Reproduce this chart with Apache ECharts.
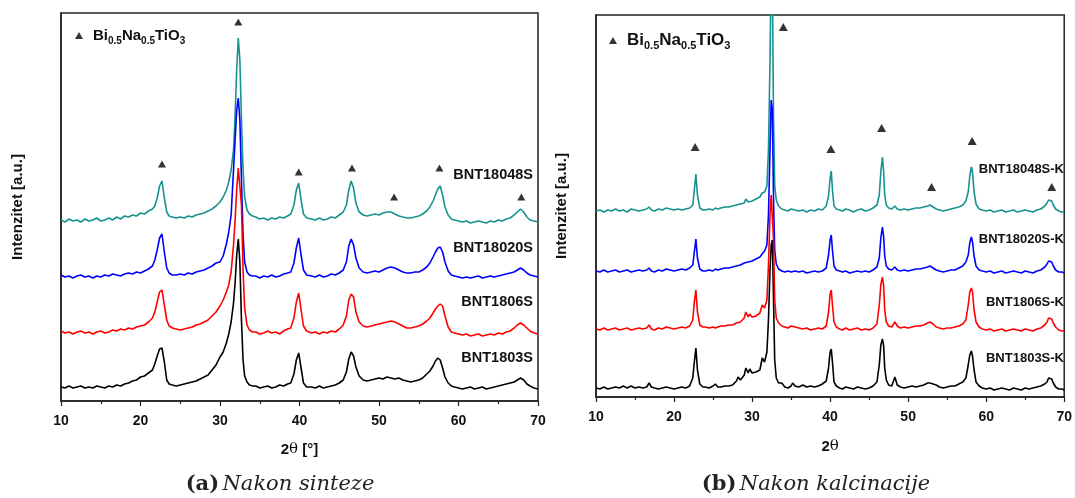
<!DOCTYPE html>
<html>
<head>
<meta charset="utf-8">
<script src="https://cdn.jsdelivr.net/npm/echarts@6/dist/echarts.min.js"></script>
<style>
html, body { margin: 0; padding: 0; background: #fff; }
#main { width: 1075px; height: 498px; }
</style>
</head>
<body>
<div id="main"></div>
<script>
// (a) Nakon sinteze -- 2theta grid and intensities (a.u.)
var anglesA = [
  10,10.5,11,11.5,12,12.5,13,13.5,14,14.5,15,15.5,16,16.5,17,17.5,18,18.5,19,19.5,20,20.5,21,
  21.5,21.8,22.1,22.4,22.7,23,23.3,23.6,24,
  24.5,25,25.5,26,26.5,27,27.5,28,28.5,29,29.5,
  30,30.4,30.8,31.1,31.4,31.7,31.9,32.1,32.3,32.5,32.7,32.9,33.1,33.4,33.7,34.1,
  34.5,35,35.5,36,36.5,37,37.5,38,38.5,
  38.9,39.3,39.6,39.9,40.2,40.5,40.9,
  41.5,42,42.5,43,43.5,44,44.5,45,45.5,
  45.9,46.2,46.5,46.8,47.1,47.5,
  48,48.5,49,49.5,50,50.5,51,51.5,52,52.5,53,53.5,54,54.5,55,55.5,
  56,56.4,56.8,57.1,57.4,57.7,58,58.3,58.7,59.1,
  59.5,60,60.5,61,61.5,62,62.5,63,63.5,64,64.5,65,65.5,66,66.5,
  67,67.4,67.8,68.2,68.6,69,69.5,70
];
var bnt18048S = [
  181,179,182,180,181,179,182,180,181,183,180,181,183,181,184,182,185,184,186,185,188,187,190,
  192,195,203,215,220,203,189,185,184,
  183,184,183,185,184,186,187,188,190,192,195,
  199,204,211,219,231,251,286,331,363,341,281,231,204,191,187,185,
  184,182,183,181,183,182,184,183,185,
  187,196,211,218,201,187,183,
  182,181,183,181,182,184,183,186,189,
  196,211,220,213,198,189,
  186,185,186,187,186,188,189,189,187,185,184,183,183,184,185,187,
  190,194,200,206,212,215,206,194,186,182,
  181,180,179,180,178,179,180,179,178,180,179,181,180,182,183,
  186,189,192,189,184,181,180,179
];
var bnt18020S = [
  126,124,125,123,125,126,124,125,123,125,124,126,125,127,126,125,127,128,127,129,128,130,132,
  135,141,151,163,167,149,133,128,126,
  126,127,126,128,127,129,130,131,133,135,138,
  139,145,157,169,186,231,261,291,303,281,221,166,139,129,126,125,
  125,123,125,124,126,124,125,127,128,
  129,138,153,163,146,131,126,
  125,124,126,124,125,127,126,128,131,
  139,155,162,156,143,133,
  129,128,129,130,129,131,133,134,133,131,129,128,128,129,129,131,
  134,138,144,149,153,154,149,139,130,126,
  125,124,123,124,123,124,125,123,124,125,124,125,126,127,128,
  129,131,133,131,128,126,125,124
];
var bnt1806S = [
  70,68,69,67,69,70,68,69,67,69,70,68,69,71,70,72,71,73,72,74,75,76,79,
  83,89,99,109,111,96,81,75,73,
  72,71,72,73,74,76,77,79,81,85,89,
  95,101,109,116,129,156,181,211,233,231,196,131,93,76,71,69,
  69,67,68,70,68,69,67,70,72,
  73,83,99,108,91,75,70,
  68,69,67,69,68,70,69,72,76,
  85,101,107,104,89,79,
  75,74,75,76,77,78,79,80,79,77,75,73,73,74,75,77,
  80,83,88,92,95,97,95,85,74,69,
  68,67,66,67,65,66,67,65,66,67,66,68,67,69,70,
  73,76,78,76,73,70,68,67
];
var bnt1803S = [
  14,13,15,13,14,15,13,14,13,15,14,13,15,14,16,15,17,18,20,21,24,25,28,
  31,37,45,52,53,39,21,17,16,
  15,16,17,18,19,20,22,24,26,31,36,
  44,49,58,67,79,98,118,146,162,139,81,41,25,19,16,15,
  15,13,14,15,13,14,16,15,17,
  18,27,41,48,33,18,14,
  14,13,15,13,14,15,16,18,21,
  29,42,49,45,34,25,
  21,20,21,22,23,22,24,23,22,23,21,20,19,20,21,23,
  27,30,35,40,43,41,33,24,18,15,
  14,13,12,13,14,12,13,14,12,13,14,15,16,17,18,
  19,21,23,21,17,15,13,12
];
var peakAnglesA = [22.7, 32.3, 39.9, 46.6, 51.9, 57.6, 67.9];
var peakMarksA = [237, 379, 229, 233, 204, 233, 204];

// (b) Nakon kalcinacije
var anglesB = [
  10,10.5,11,11.5,12,12.5,13,13.5,14,14.5,15,15.5,16,16.5,16.8,17.1,17.5,18,18.5,19,19.5,20,20.5,21,21.5,22,
  22.4,22.6,22.8,23,23.3,23.7,
  24,24.5,25,25.3,25.6,26,26.5,27,27.5,28,28.2,28.5,29,29.2,29.5,29.7,30,30.5,31,31.3,31.6,31.9,
  32.1,32.3,32.45,32.6,32.75,32.9,33.1,33.4,33.8,
  34.2,34.6,35,35.2,35.5,36,36.5,37,37.5,38,38.5,39,39.5,
  39.8,40,40.15,40.3,40.5,40.8,
  41.2,41.6,42,42.5,43,43.5,44,44.5,45,45.5,46,
  46.3,46.5,46.7,46.85,47,47.2,47.5,
  47.9,48.3,48.6,49,49.5,50,50.5,51,51.5,52,52.5,52.8,53.2,53.6,54,54.5,55,55.5,56,56.5,57,57.4,
  57.7,57.9,58.1,58.25,58.45,58.7,59.1,
  59.5,60,60.5,61,61.5,62,62.5,63,63.5,64,64.5,65,65.5,66,66.5,67,67.5,
  67.8,68,68.2,68.4,68.6,68.9,69.3,69.7,70
];
var bnt18048SK = [
  186,187,185,187,186,188,186,187,185,188,187,186,187,188,190,187,186,188,187,189,188,187,188,187,188,189,
  192,207,223,202,189,187,
  187,188,187,189,188,189,190,190,191,192,194,193,194,198,195,197,196,198,200,204,205,211,
  247,337,427,417,277,212,197,191,188,
  187,186,188,189,187,186,187,185,187,186,188,187,191,
  201,219,226,207,191,188,
  187,186,188,187,185,187,188,186,187,189,192,
  202,225,240,227,202,192,189,
  188,191,188,187,188,187,188,189,189,190,191,192,190,188,187,186,187,188,189,190,192,196,
  205,221,230,225,205,193,188,
  187,186,187,185,186,187,185,186,187,185,186,187,186,185,187,188,191,
  194,197,198,196,192,188,186,185,185
];
var bnt18020SK = [
  126,125,127,125,126,127,125,126,127,125,126,127,126,127,129,126,125,127,126,128,127,126,127,128,127,129,
  132,145,158,139,128,126,
  126,127,126,128,127,128,129,129,130,131,132,132,134,135,135,136,136,138,140,143,146,152,
  182,247,297,287,197,147,133,128,126,
  125,126,125,127,126,125,126,124,125,126,125,126,129,
  142,157,162,147,131,127,
  126,125,126,124,125,126,125,126,125,127,130,
  139,159,170,161,141,131,128,
  127,130,127,126,127,126,127,128,128,129,130,131,129,127,126,125,126,127,127,129,131,135,
  142,154,160,155,141,131,127,
  126,125,126,124,125,126,124,125,126,125,124,126,125,124,126,127,130,
  133,136,137,135,131,127,125,125,124
];
var bnt1806SK = [
  68,67,69,67,68,69,67,68,69,67,68,69,68,69,72,68,67,69,68,70,69,68,69,70,69,71,
  77,95,107,85,72,70,
  70,69,70,69,70,71,71,72,72,74,76,75,79,85,80,83,80,81,84,92,89,97,
  132,182,202,204,157,97,79,74,71,
  70,69,71,73,70,69,68,69,67,68,69,68,71,
  85,103,107,92,75,70,
  68,67,69,67,68,69,67,68,67,69,73,
  92,112,120,112,87,75,71,
  70,75,71,69,70,69,70,71,71,72,74,75,73,70,69,68,69,69,70,71,73,77,
  92,105,109,105,87,75,70,
  68,67,68,66,67,68,66,67,68,67,66,68,67,66,68,69,72,
  75,79,80,78,74,70,67,66,66
];
var bnt1803SK = [
  9,8,10,8,9,10,9,11,9,11,9,10,9,10,14,10,9,8,9,10,9,8,9,10,9,11,
  19,35,49,27,13,10,
  10,9,11,13,10,10,11,11,12,16,20,17,22,29,24,28,24,25,27,39,35,45,
  77,127,152,157,97,37,19,14,14,
  10,9,11,14,11,10,12,10,11,10,11,13,16,
  29,45,48,35,15,11,
  9,8,10,9,8,10,9,8,9,11,15,
  32,52,58,52,29,17,12,
  11,20,12,10,9,10,11,10,11,12,14,14,13,12,10,9,10,11,11,13,15,19,
  32,42,46,41,27,15,11,
  9,8,9,7,8,9,8,7,9,8,7,9,8,9,10,11,13,
  15,19,20,18,14,10,8,8,7
];
var peakAnglesB = [22.7, 34.0, 40.1, 46.6, 53.0, 58.2, 68.4];
var peakMarksB = [250, 370, 248, 269, 210, 256, 210];

var namesA = ['BNT18048S', 'BNT18020S', 'BNT1806S', 'BNT1803S'];
var namesB = ['BNT18048S-K', 'BNT18020S-K', 'BNT1806S-K', 'BNT1803S-K'];
var phaseName = 'Bi0.5Na0.5TiO3';

var colors = ['#16938f', '#0000ff', '#ff0000', '#000000'];
var axisColor = '#222';

function pairs(xs, ys) {
    return xs.map(function (x, i) { return [x, ys[i]]; });
}

function xAxisFor(idx, nameGap) {
    return {
        gridIndex: idx,
        type: 'value',
        min: 10,
        max: 70,
        interval: 10,
        axisLine: { show: true, onZero: false, lineStyle: { color: axisColor, width: 1.5 } },
        axisTick: { show: true, length: 5, lineStyle: { color: axisColor, width: 1.2 } },
        minorTick: { show: true, splitNumber: 2, length: 3, lineStyle: { color: axisColor, width: 1.2 } },
        splitLine: { show: false },
        axisLabel: { fontSize: 14, fontWeight: 'bold', color: '#111', margin: 13, fontFamily: 'Liberation Sans' },
        name: idx === 0 ? '{a|2}{t|θ}{a| [°]}' : '{a|2}{t|θ}',
        nameLocation: 'middle',
        nameGap: nameGap,
        nameTextStyle: {
            rich: {
                a: { fontSize: 15, fontWeight: 'bold', color: '#111', fontFamily: 'Liberation Sans' },
                t: { fontSize: 15, color: '#111', fontFamily: 'DejaVu Serif' }
            }
        }
    };
}

function yAxisFor(idx, max, nameGap) {
    return {
        gridIndex: idx,
        type: 'value',
        min: 0,
        max: max,
        axisLine: { show: true, lineStyle: { color: axisColor, width: 1.5 } },
        axisTick: { show: false },
        axisLabel: { show: false },
        splitLine: { show: false },
        name: 'Intenzitet [a.u.]',
        nameLocation: 'middle',
        nameGap: nameGap,
        nameTextStyle: { fontSize: 15, fontWeight: 'bold', color: '#111', fontFamily: 'Liberation Sans' }
    };
}

function lineSeries(idx, name, xs, ys, color, z) {
    return {
        name: name,
        type: 'line',
        xAxisIndex: idx,
        yAxisIndex: idx,
        data: pairs(xs, ys),
        showSymbol: false,
        clip: true,
        z: z,
        lineStyle: { color: color, width: 1.6 },
        itemStyle: { color: color },
        animation: false
    };
}

function markerSeries(idx, xs, ys, size) {
    return {
        name: phaseName,
        type: 'scatter',
        xAxisIndex: idx,
        yAxisIndex: idx,
        symbol: 'triangle',
        symbolSize: size,
        data: pairs(xs, ys),
        itemStyle: { color: '#000' },
        z: 10,
        animation: false
    };
}

function legendFor(left, top, big, small) {
    return {
        data: [phaseName],
        left: left,
        top: top,
        icon: 'triangle',
        itemWidth: 8,
        itemHeight: 7,
        selectedMode: false,
        formatter: function () {
            return '{n|Bi}{s|0.5}{n|Na}{s|0.5}{n|TiO}{s|3}';
        },
        textStyle: {
            padding: [0, 0, 0, 5],
            rich: {
                n: { fontSize: big, fontWeight: 'bold', color: '#111', fontFamily: 'Liberation Sans', lineHeight: 22, verticalAlign: 'middle' },
                s: { fontSize: small, fontWeight: 'bold', color: '#111', fontFamily: 'Liberation Sans', lineHeight: 22, verticalAlign: 'bottom' }
            }
        }
    };
}

function label(x, y, text, size) {
    return {
        type: 'text',
        x: x,
        y: y,
        style: {
            text: text,
            fill: '#111',
            font: 'bold ' + size + 'px "Liberation Sans"',
            textAlign: 'right',
            textVerticalAlign: 'middle'
        }
    };
}

function caption(x, y, tag, text) {
    return {
        type: 'text',
        x: x,
        y: y,
        style: {
            text: '{b|' + tag + '} {i|' + text + '}',
            textAlign: 'center',
            textVerticalAlign: 'middle',
            rich: {
                b: { fontSize: 21, fontWeight: 'bold', fill: '#222', fontFamily: 'DejaVu Serif' },
                i: { fontSize: 21, fontStyle: 'italic', fill: '#222', fontFamily: 'DejaVu Serif' }
            }
        }
    };
}

var chart = echarts.init(document.getElementById('main'));

var option = {
    backgroundColor: '#fff',
    animation: false,
    grid: [
        { left: 61, top: 13, width: 477, height: 388, show: true, borderColor: axisColor, borderWidth: 1.5, backgroundColor: 'transparent' },
        { left: 596, top: 15, width: 472, height: 382, show: true, borderColor: axisColor, borderWidth: 1.5, backgroundColor: 'transparent' }
    ],
    xAxis: [xAxisFor(0, 41), xAxisFor(1, 42)],
    yAxis: [yAxisFor(0, 388, 36), yAxisFor(1, 382, 27)],
    legend: [legendFor(70, 23, 15, 10), legendFor(604, 27, 17, 11)],
    series: [
        lineSeries(0, namesA[0], anglesA, bnt18048S, colors[0], 2),
        lineSeries(0, namesA[1], anglesA, bnt18020S, colors[1], 3),
        lineSeries(0, namesA[2], anglesA, bnt1806S, colors[2], 4),
        lineSeries(0, namesA[3], anglesA, bnt1803S, colors[3], 5),
        markerSeries(0, peakAnglesA, peakMarksA, [8, 7]),
        lineSeries(1, namesB[0], anglesB, bnt18048SK, colors[0], 2),
        lineSeries(1, namesB[1], anglesB, bnt18020SK, colors[1], 3),
        lineSeries(1, namesB[3], anglesB, bnt1803SK, colors[3], 4),
        lineSeries(1, namesB[2], anglesB, bnt1806SK, colors[2], 5),
        markerSeries(1, peakAnglesB, peakMarksB, [9, 8])
    ],
    graphic: [
        label(533, 175, namesA[0], 14.5),
        label(533, 248, namesA[1], 14.5),
        label(533, 302, namesA[2], 14.5),
        label(533, 358, namesA[3], 14.5),
        label(1064, 169, namesB[0], 13),
        label(1064, 239, namesB[1], 13),
        label(1064, 302, namesB[2], 13),
        label(1064, 358, namesB[3], 13),
        caption(280, 485, '(a)', 'Nakon sinteze'),
        caption(816, 485, '(b)', 'Nakon kalcinacije')
    ]
};

chart.setOption(option);
</script>
</body>
</html>
